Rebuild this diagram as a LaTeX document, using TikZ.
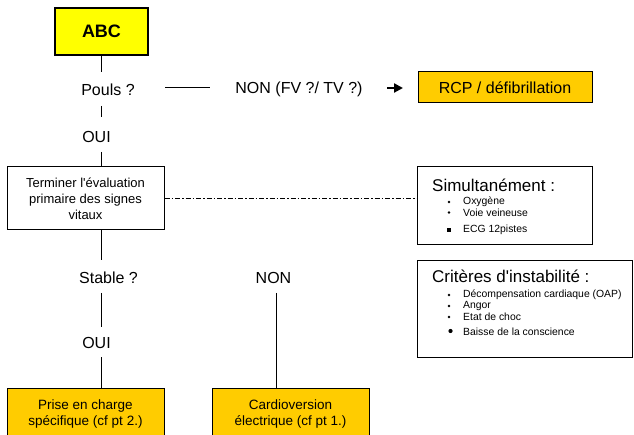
\documentclass[tikz,border=0pt]{standalone}
\usepackage{fontspec}
\setmainfont{Liberation Sans}[Ligatures=TeXOff]
\usetikzlibrary{arrows.meta}
\definecolor{abcyellow}{HTML}{FFFF00}
\definecolor{boxorange}{HTML}{FFCC00}
\begin{document}
\begin{tikzpicture}[x=1pt,y=-1pt,
  box/.style={draw=black, line width=1pt, inner sep=0pt, align=center},
  lbl/.style={font=\fontsize{16}{19}\selectfont, inner sep=0pt},
  smalltxt/.style={font=\fontsize{13.5}{16}\selectfont},
  ttl/.style={anchor=west, inner sep=0pt, font=\fontsize{17}{20}\selectfont},
  itm/.style={anchor=west, inner sep=0pt, font=\fontsize{10.4}{12}\selectfont},
  link/.style={draw=black, line width=1pt},
  dashdot/.style={draw=black, line width=1pt, dash pattern=on 5pt off 2pt on 1.5pt off 2pt}]
\useasboundingbox (0,0) rectangle (634,435);
\clip (0,0) rectangle (634,435);
\fill[white] (0,0) rectangle (634,435);

% nodes
\node[box, line width=1.2pt, fill=abcyellow, minimum width=93pt, minimum height=47pt, font=\bfseries\fontsize{18}{20}\selectfont] (abc) at (101.5,31.5) {ABC};
\node[lbl] (pouls) at (108,90) {Pouls ?};
\node[lbl] (non1) at (299,89) {NON (FV ?/ TV ?)};
\node[box, fill=boxorange, minimum width=174pt, minimum height=31pt, font=\fontsize{16}{19}\selectfont] (rcp) at (505,87.5) {RCP / défibrillation};
\node[lbl] (oui1) at (96.5,137) {OUI};
\node[box, minimum width=157pt, minimum height=63pt, font=\fontsize{13}{16}\selectfont] (term) at (85.5,198.5) {Terminer l'évaluation\\primaire des signes\\vitaux};
\node[lbl] (stable) at (108.5,278) {Stable ?};
\node[lbl] (non2) at (273.5,278) {NON};
\node[lbl] (oui2) at (96.5,343) {OUI};
\node[box, smalltxt, fill=boxorange, minimum width=157pt, minimum height=52pt] (prise) at (85.5,414) {Prise en charge\\spécifique (cf pt 2.)};
\node[box, smalltxt, fill=boxorange, minimum width=157pt, minimum height=52pt] (cardio) at (290.5,414) {Cardioversion\\électrique (cf pt 1.)};

\node[box, minimum width=175pt, minimum height=78pt] (sim) at (504.5,206) {};
\node[ttl] (simt) at (432,185) {Simultanément :};
\node[itm] (s1) at (463,202) {Oxygène};
\node[itm] (s2) at (463,212.5) {Voie veineuse};
\node[itm] (s3) at (463,230) {ECG 12pistes};
\fill (449,202) circle (1.4);
\fill (449,212.5) circle (1.4);
\fill (447.3,228.3) rectangle (450.7,231.7);

\node[box, minimum width=215pt, minimum height=97pt] (crit) at (524.5,309) {};
\node[ttl] (critt) at (432,276) {Critères d'instabilité :};
\node[itm] (k1) at (463,295) {Décompensation cardiaque (OAP)};
\node[itm] (k2) at (463,306) {Angor};
\node[itm] (k3) at (463,317) {Etat de choc};
\node[itm] (k4) at (463,332) {Baisse de la conscience};
\fill (449,295) circle (1.4);
\fill (449,306) circle (1.4);
\fill (449,317) circle (1.4);
\fill (450.5,331) circle (2.1);

% connectors
\coordinate (c1) at (101.5,72);
\draw[link] (abc.south) -- (c1);
\coordinate (c2a) at (101.5,106);
\coordinate (c2b) at (101.5,117);
\draw[link] (c2a) -- (c2b);
\coordinate (c3) at (101.5,152);
\draw[link] (c3) -- (c3 |- term.north);
\coordinate (h1) at (165,88);
\coordinate (h2) at (210,88);
\draw[link] (h1) -- (h2);
\coordinate (a1) at (387,88);
\coordinate (a2) at (403,88);
\draw[line width=2.2pt, -{Triangle[length=9pt,width=9pt]}] (a1) -- (a2);
\draw[dashdot] (term.east) -- (term.east -| sim.west);
\coordinate (c7) at (101.5,260);
\draw[link] (c7 |- term.south) -- (c7);
\coordinate (c8a) at (101.5,293);
\coordinate (c8b) at (101.5,327);
\draw[link] (c8a) -- (c8b);
\coordinate (c9) at (101.5,357);
\draw[link] (c9) -- (c9 |- prise.north);
\coordinate (c10) at (276,293);
\draw[link] (c10) -- (c10 |- cardio.north);
\end{tikzpicture}
\end{document}
